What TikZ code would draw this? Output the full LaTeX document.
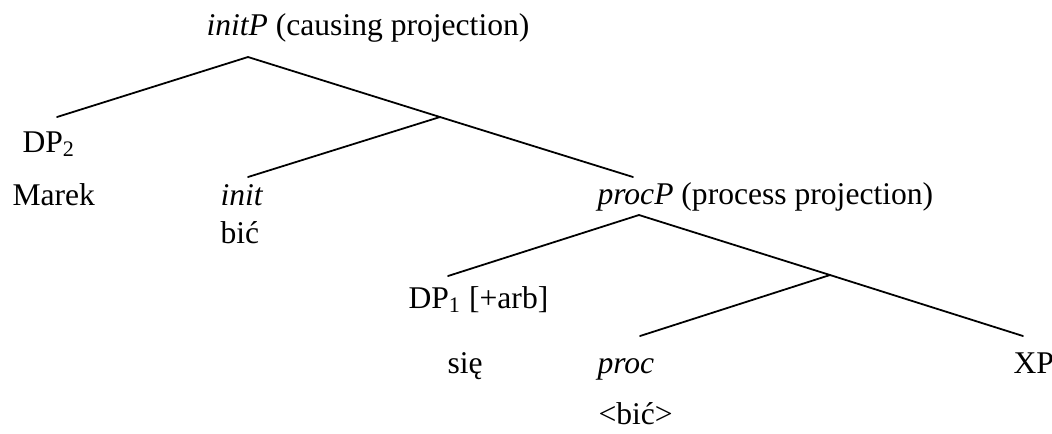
\documentclass[tikz,border=0pt]{standalone}
\usepackage{fontspec}
\setmainfont{Liberation Serif}
\usetikzlibrary{positioning}
\def\px{0.0138cm}

\begin{document}
\begin{tikzpicture}[x=\px, y=-\px, font=\fontsize{12.4}{15}\selectfont]
    \tikzstyle{cat}=[anchor=base west, inner sep=0pt]
    \tikzstyle{branch}=[draw=black, line width=0.7pt, line cap=round]

    \useasboundingbox (0,0) rectangle (1052,433);

    % Tree joints
    \coordinate (initP) at (248,57);
    \coordinate (initbar) at (440,117);
    \coordinate (DP2) at (57,117);
    \coordinate (init) at (248,177);
    \coordinate (procPtop) at (633,177);
    \coordinate (procP) at (639,215);
    \coordinate (procbar) at (830,275);
    \coordinate (DP1) at (448,276);
    \coordinate (proc) at (640,336);
    \coordinate (XP) at (1023,336);

    % Draw the labels
    \node[cat] (initP-l) at (206,35) {\textit{initP} (causing projection)};
    \node[cat] (DP2-l) at (22,152) {DP\textsubscript{2}};
    \node[cat] (marek) at (12,205) {Marek};
    \node[cat] (init-l) at (220,205) {\textit{init}};
    \node[cat] (bic) at (220,243) {bić};
    \node[cat] (procP-l) at (597,204) {\textit{procP} (process projection)};
    \node[cat] (DP1-l) at (408,308) {DP\textsubscript{1} [+arb]};
    \node[cat] (sie) at (447,373) {się};
    \node[cat] (proc-l) at (597,373) {\textit{proc}};
    \node[cat] (bic2) at (598,424) {<bić>};
    \node[cat] (XP-l) at (1013,373) {XP};

    % Draw the branches
    \draw[branch] (DP2) -- (initP) -- (initbar) -- (procPtop);
    \draw[branch] (initbar) -- (init);
    \draw[branch] (DP1) -- (procP) -- (procbar) -- (XP);
    \draw[branch] (procbar) -- (proc);
\end{tikzpicture}
\end{document}
